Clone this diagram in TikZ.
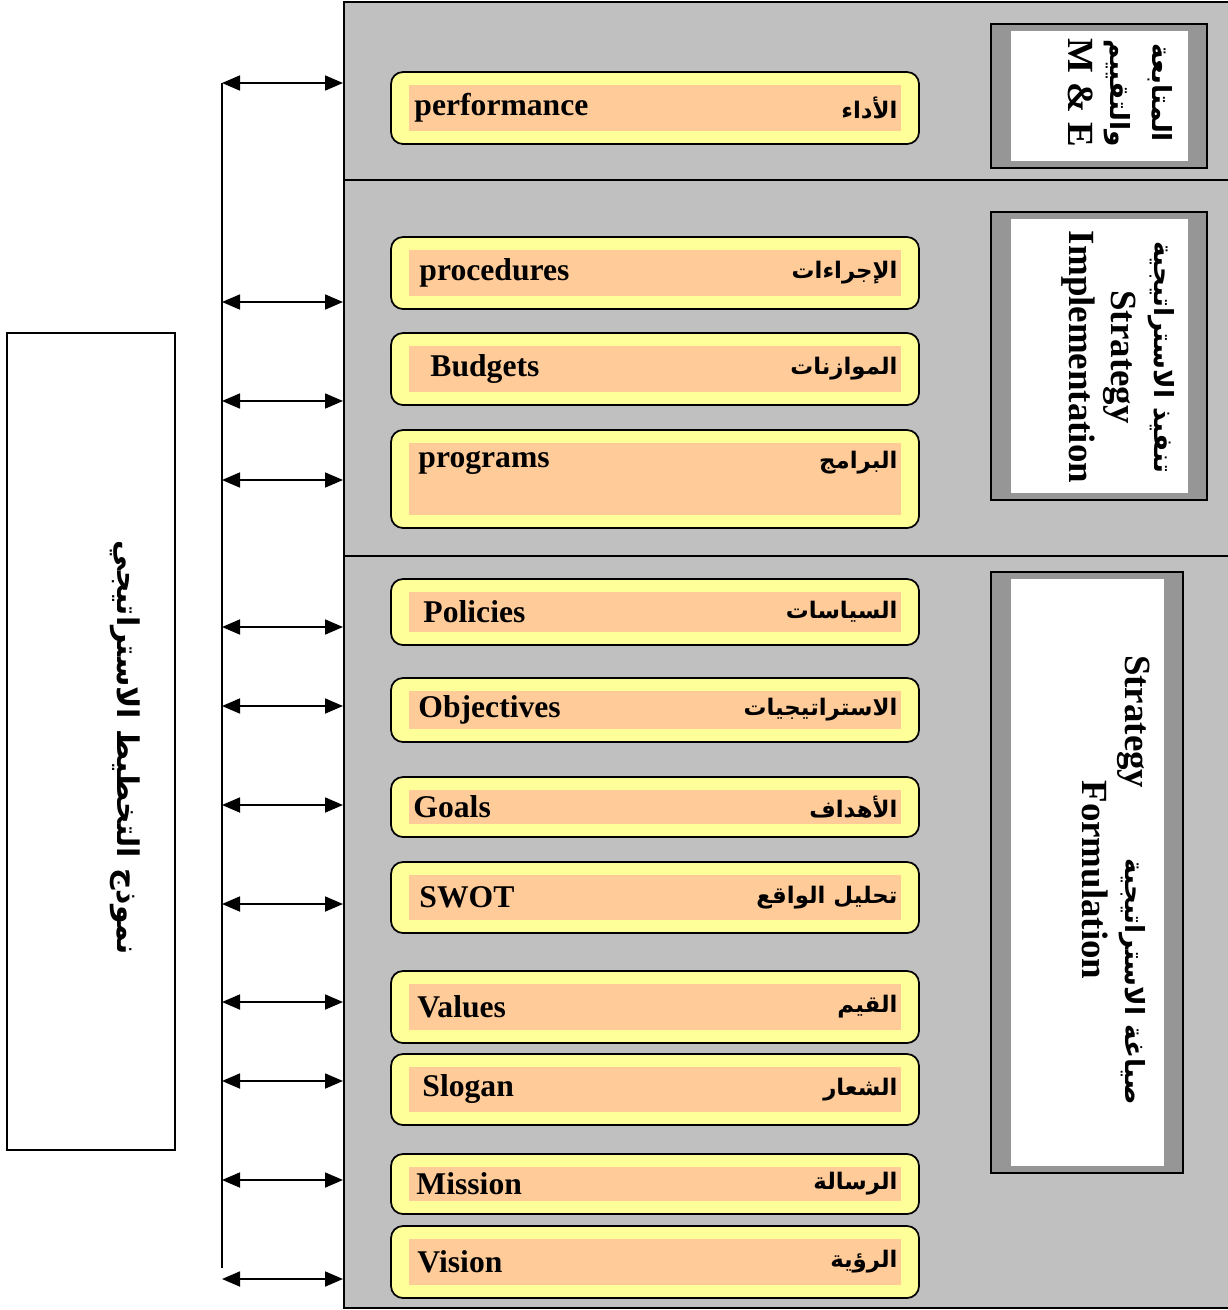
\documentclass[tikz,border=0pt]{standalone}
\usepackage{fontspec}
\setmainfont{Liberation Serif}
\newfontfamily\arabicfont[Script=Arabic]{DejaVu Sans}
\TeXXeTstate=1
\usetikzlibrary{arrows.meta,positioning}

\definecolor{panelgrey}{HTML}{C0C0C0}
\definecolor{framegrey}{HTML}{969696}
\definecolor{boxyellow}{HTML}{FFFF99}
\definecolor{boxorange}{HTML}{FFCC99}

\tikzset{
  itembox/.style={draw, line width=1pt, rounded corners=0.24cm, fill=boxyellow,
    minimum width=10.56cm, minimum height=#1, inner sep=0pt,
    path picture={\fill[boxorange, sharp corners] ([xshift=0.36cm,yshift=-0.26cm]path picture bounding box.north west)
      rectangle ([xshift=-0.36cm,yshift=0.26cm]path picture bounding box.south east);}},
  itembox/.default=1.44cm,
  entext/.style={inner sep=0pt, font=\fontsize{18}{20}\selectfont\bfseries},
  artext/.style={inner sep=0pt, font=\fontsize{13}{16}\selectfont\arabicfont\bfseries},
  sideframe/.style={draw, line width=1.2pt, fill=framegrey, inner sep=0pt,
    path picture={\fill[white] ([xshift=0.4cm,yshift=-0.14cm]path picture bounding box.north west)
      rectangle ([xshift=-0.38cm,yshift=0.14cm]path picture bounding box.south east);}},
  sidetext/.style={rotate=-90, align=center, inner sep=0pt, font=\fontsize{21}{24}\selectfont\bfseries},
  biarrow/.style={line width=1pt, {Triangle[length=0.36cm,width=0.3cm]}-{Triangle[length=0.36cm,width=0.3cm]}}
}
\newcommand{\sidear}[1]{{\arabicfont\fontsize{15}{24}\selectfont\beginR #1\endR}}

\begin{document}
\begin{tikzpicture}
        \useasboundingbox (0,0) rectangle (24.56,-26.2);
        % grey panel with its three stages
        \node[draw, line width=1.2pt, fill=panelgrey, anchor=north west, inner sep=0pt,
          minimum width=17.8cm, minimum height=26.12cm] (panel) at (6.86,-0.02) {};
        \coordinate (cut1) at (6.86,-3.6);
        \coordinate (cut2) at (6.86,-11.12);
        \draw[line width=1.2pt] (cut1) -- (cut1 -| panel.east);
        \draw[line width=1.2pt] (cut2) -- (cut2 -| panel.east);

        % model box on the left
        \node[draw, line width=1pt, fill=white, inner sep=0pt,
          minimum width=3.36cm, minimum height=16.34cm] (model) at (1.82,-14.83) {};
        \node[sidetext, font=\fontsize{17}{24}\selectfont\arabicfont\bfseries] (model-txt) at (2.5,-14.96)
          {\beginR نموذج التخطيط الاستراتيجي\endR};

        % stage frames
        \node[sideframe, minimum width=4.32cm, minimum height=2.88cm] (me) at (21.98,-1.92) {};
        \node[sideframe, minimum width=4.32cm, minimum height=5.76cm] (impl) at (21.98,-7.12) {};
        \node[sideframe, minimum width=3.84cm, minimum height=12.02cm] (form) at (21.74,-17.45) {};
        \node[sidetext] (me-txt) at (22.4,-1.86)
          {\sidear{المتابعة}\\
           \sidear{والتقييم}\\
           M \& E};
        \node[sidetext] (impl-txt) at (22.36,-7.14)
          {\sidear{تنفيذ الاستراتيجية}\\
           Strategy\\
           Implementation};
        \node[sidetext] (form-txt) at (22.32,-17.6)
          {Strategy\hspace{1.4cm}\sidear{صياغة الاستراتيجية}\\
           Formulation};

        % items
        \node[itembox] (perf) at (13.1,-2.16) {};
        \node[itembox] (proc) at (13.1,-5.46) {};
        \node[itembox] (budg) at (13.1,-7.38) {};
        \node[itembox=1.96cm] (prog) at (13.1,-9.58) {};
        \node[itembox=1.32cm] (poli) at (13.1,-12.24) {};
        \node[itembox=1.28cm] (obje) at (13.1,-14.2) {};
        \node[itembox=1.2cm] (goal) at (13.1,-16.14) {};
        \node[itembox=1.42cm] (swot) at (13.1,-17.95) {};
        \node[itembox] (valu) at (13.1,-20.14) {};
        \node[itembox=1.42cm] (slog) at (13.1,-21.79) {};
        \node[itembox=1.2cm] (miss) at (13.1,-23.68) {};
        \node[itembox] (visi) at (13.1,-25.24) {};

        \node[entext, right=0.48cm of perf.west] (perf-en) {performance};
        \node[entext, right=0.58cm of proc.west] (proc-en) {procedures};
        \node[entext, right=0.8cm of budg.west] (budg-en) {Budgets};
        \node[entext, right=0.56cm of prog.west, yshift=0.32cm] (prog-en) {programs};
        \node[entext, right=0.66cm of poli.west] (poli-en) {Policies};
        \node[entext, right=0.56cm of obje.west] (obje-en) {Objectives};
        \node[entext, right=0.46cm of goal.west] (goal-en) {Goals};
        \node[entext, right=0.58cm of swot.west] (swot-en) {SWOT};
        \node[entext, right=0.54cm of valu.west] (valu-en) {Values};
        \node[entext, right=0.64cm of slog.west] (slog-en) {Slogan};
        \node[entext, right=0.52cm of miss.west] (miss-en) {Mission};
        \node[entext, right=0.54cm of visi.west] (visi-en) {Vision};

        \node[artext, left=0.44cm of perf.east] (perf-ar) {\beginR الأداء\endR};
        \node[artext, left=0.44cm of proc.east] (proc-ar) {\beginR الإجراءات\endR};
        \node[artext, left=0.44cm of budg.east] (budg-ar) {\beginR الموازنات\endR};
        \node[artext, left=0.44cm of prog.east, yshift=0.32cm] (prog-ar) {\beginR البرامج\endR};
        \node[artext, left=0.44cm of poli.east] (poli-ar) {\beginR السياسات\endR};
        \node[artext, left=0.44cm of obje.east] (obje-ar) {\beginR الاستراتيجيات\endR};
        \node[artext, left=0.44cm of goal.east] (goal-ar) {\beginR الأهداف\endR};
        \node[artext, left=0.44cm of swot.east] (swot-ar) {\beginR تحليل الواقع\endR};
        \node[artext, left=0.44cm of valu.east] (valu-ar) {\beginR القيم\endR};
        \node[artext, left=0.44cm of slog.east] (slog-ar) {\beginR الشعار\endR};
        \node[artext, left=0.44cm of miss.east] (miss-ar) {\beginR الرسالة\endR};
        \node[artext, left=0.44cm of visi.east] (visi-ar) {\beginR الرؤية\endR};

        % spine and arrows
        \coordinate (spine-top) at (4.44,-1.66);
        \coordinate (spine-bot) at (4.44,-25.36);
        \draw[line width=1pt] (spine-top) -- (spine-bot);
        \coordinate (a1) at (4.44,-1.66);
        \coordinate (a2) at (4.44,-6.04);
        \coordinate (a3) at (4.44,-8.02);
        \coordinate (a4) at (4.44,-9.6);
        \coordinate (a5) at (4.44,-12.54);
        \coordinate (a6) at (4.44,-14.12);
        \coordinate (a7) at (4.44,-16.1);
        \coordinate (a8) at (4.44,-18.08);
        \coordinate (a9) at (4.44,-20.04);
        \coordinate (a10) at (4.44,-21.62);
        \coordinate (a11) at (4.44,-23.6);
        \coordinate (a12) at (4.44,-25.58);
        \draw[biarrow] (a1) -- (a1 -| panel.west);
        \draw[biarrow] (a2) -- (a2 -| panel.west);
        \draw[biarrow] (a3) -- (a3 -| panel.west);
        \draw[biarrow] (a4) -- (a4 -| panel.west);
        \draw[biarrow] (a5) -- (a5 -| panel.west);
        \draw[biarrow] (a6) -- (a6 -| panel.west);
        \draw[biarrow] (a7) -- (a7 -| panel.west);
        \draw[biarrow] (a8) -- (a8 -| panel.west);
        \draw[biarrow] (a9) -- (a9 -| panel.west);
        \draw[biarrow] (a10) -- (a10 -| panel.west);
        \draw[biarrow] (a11) -- (a11 -| panel.west);
        \draw[biarrow] (a12) -- (a12 -| panel.west);
        \end{tikzpicture}
\end{document}
